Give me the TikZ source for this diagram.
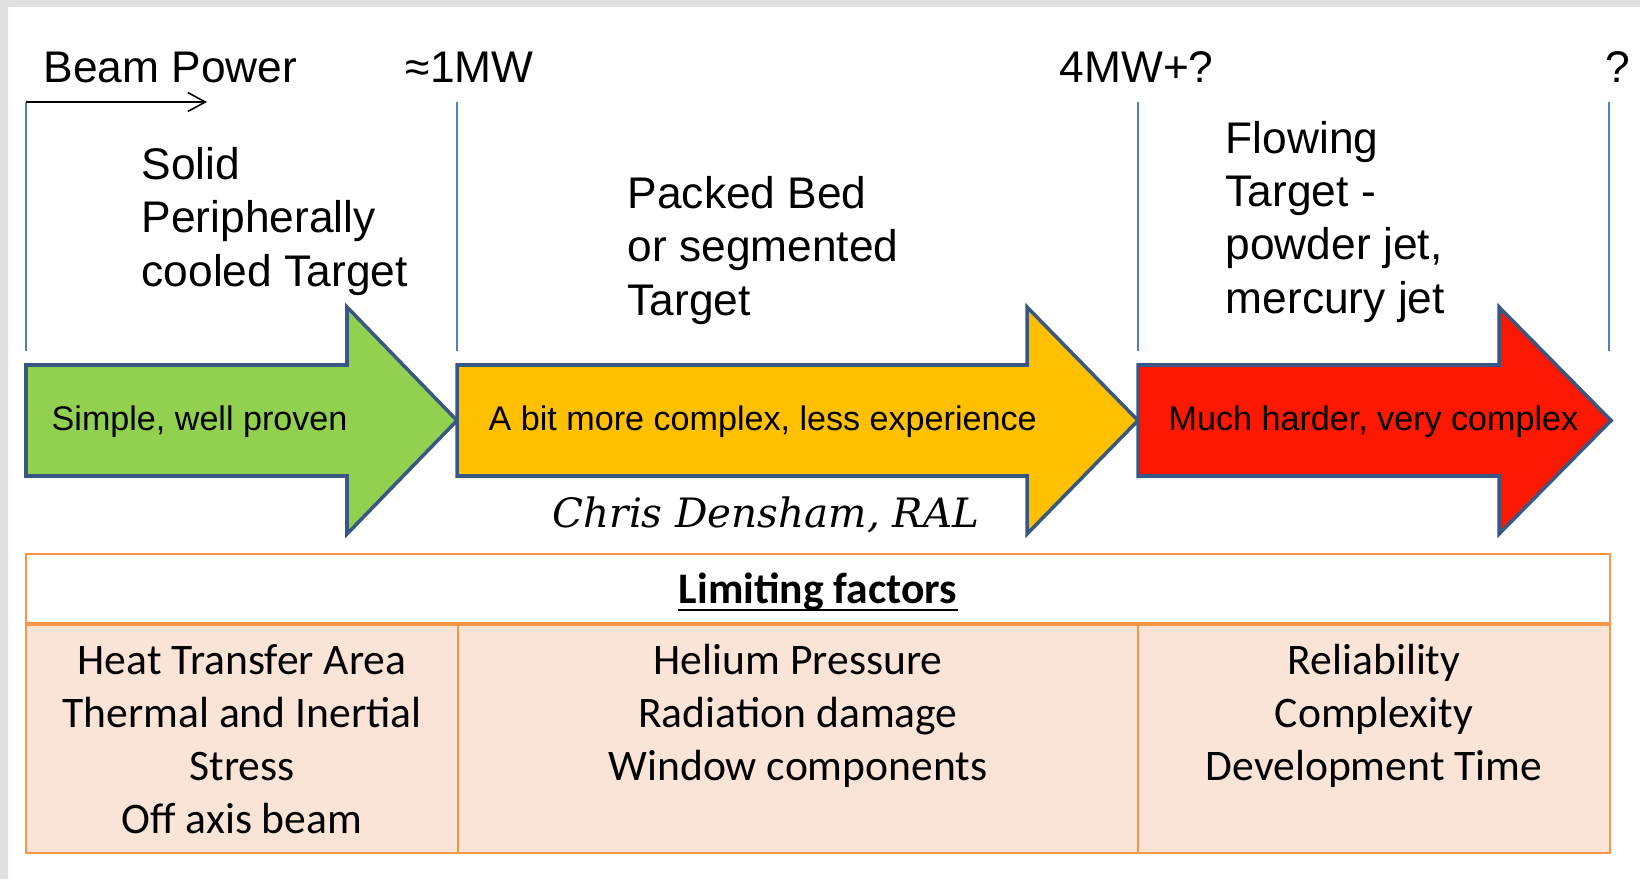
\documentclass[tikz,border=0pt]{standalone}
\usepackage{fontspec}
\usetikzlibrary{arrows.meta}
\setmainfont{Liberation Sans}
\newfontfamily\calfont{Carlito}
\newfontfamily\slabfont{DejaVu Serif}
\definecolor{vline}{RGB}{79,129,189}
\definecolor{arrline}{RGB}{56,87,130}
\definecolor{arrgreen}{RGB}{146,208,80}
\definecolor{arrorange}{RGB}{255,192,0}
\definecolor{arrred}{RGB}{250,25,0}
\definecolor{tabline}{RGB}{247,150,70}
\definecolor{tabfill}{RGB}{250,228,216}
\newcommand{\bigfont}{\fontsize{12.6}{15.1}\selectfont}
\newcommand{\arrfont}{\fontsize{9.7}{12}\selectfont}
\newcommand{\tabfont}{\calfont\fontsize{12.4}{15}\selectfont}

\begin{document}
\begin{tikzpicture}[x=0.01cm,y=-0.01cm,>=Stealth,
  lab/.style={inner sep=0pt,anchor=base west,font=\bigfont,align=left},
  intxt/.style={inner sep=0pt,anchor=base west,font=\arrfont},
  cell/.style={inner sep=0pt,anchor=base,font=\tabfont,align=center}]
\useasboundingbox (0,0) rectangle (1640,879);
\fill[gray!25] (0,0) rectangle (1640,7) (0,0) rectangle (8,879);
% power scale
\foreach \x in {26,457,1138,1609}
  \draw[vline,line width=0.6pt] (\x,102) -- (\x,351);
\node[lab] (bp) at (43,83) {Beam Power};
\coordinate (bpa) at (26,102); \coordinate (bpb) at (207,102);
\draw[-{Straight Barb[length=5pt,width=5.4pt]},line width=0.45pt] (bpa) -- (bpb);
\node[lab] (p1) at (405,83) {≈1MW};
\node[lab] (p4) at (1059,83) {4MW+?};
\node[lab] (pq) at (1605,83) {?};
% (base = last line)
\node[lab] (solid) at (141,286) {Solid\\Peripherally\\cooled Target};
\node[lab] (packed) at (627,315) {Packed Bed\\or segmented\\Target};
\node[lab] (flow) at (1225,313) {Flowing\\Target -\\powder jet,\\mercury jet};
% big arrows
\foreach \xl/\xh/\xt/\col in {26/347/457/arrgreen,457/1027/1138/arrorange,1138/1499/1611/arrred}
  \filldraw[fill=\col,draw=arrline,line width=1pt,line join=miter]
    (\xl,365) -- (\xh,365) -- (\xh,307) -- (\xt,420.5) -- (\xh,534) -- (\xh,476) -- (\xl,476) -- cycle;
\node[intxt] (easy) at (51,430) {Simple, well proven};
\node[intxt] (mid) at (488,430) {A bit more complex, less experience};
\node[intxt] (hard) at (1168,430) {Much harder, very complex};
\node[inner sep=0pt,anchor=base west,font=\slabfont\itshape\fontsize{11.5}{14}\selectfont] (cd) at (552,527) {Chris Densham, RAL};
% limiting factors table
\filldraw[fill=white,draw=tabline,line width=0.6pt] (26,554) rectangle (1610,624);
\filldraw[fill=tabfill,draw=tabline,line width=0.6pt] (26,624) rectangle (1610,853);
\draw[tabline,line width=1.2pt] (26,624) -- (1610,624);
\draw[tabline,line width=0.6pt] (458,624) -- (458,853) (1138,624) -- (1138,853);
\node[cell,font=\tabfont\bfseries] (lf) at (818,603) {Limiting factors};
\draw[line width=0.8pt] ([yshift=-2pt]lf.base west) -- ([yshift=-2pt]lf.base east);
\node[cell] (c1) at (242,833) {Heat Transfer Area\\Thermal and Inertial\\Stress\\Off axis beam};
\node[cell] (c2) at (798,780) {Helium Pressure\\Radiation damage\\Window components};
\node[cell] (c3) at (1374,780) {Reliability\\Complexity\\Development Time};
\end{tikzpicture}
\end{document}
